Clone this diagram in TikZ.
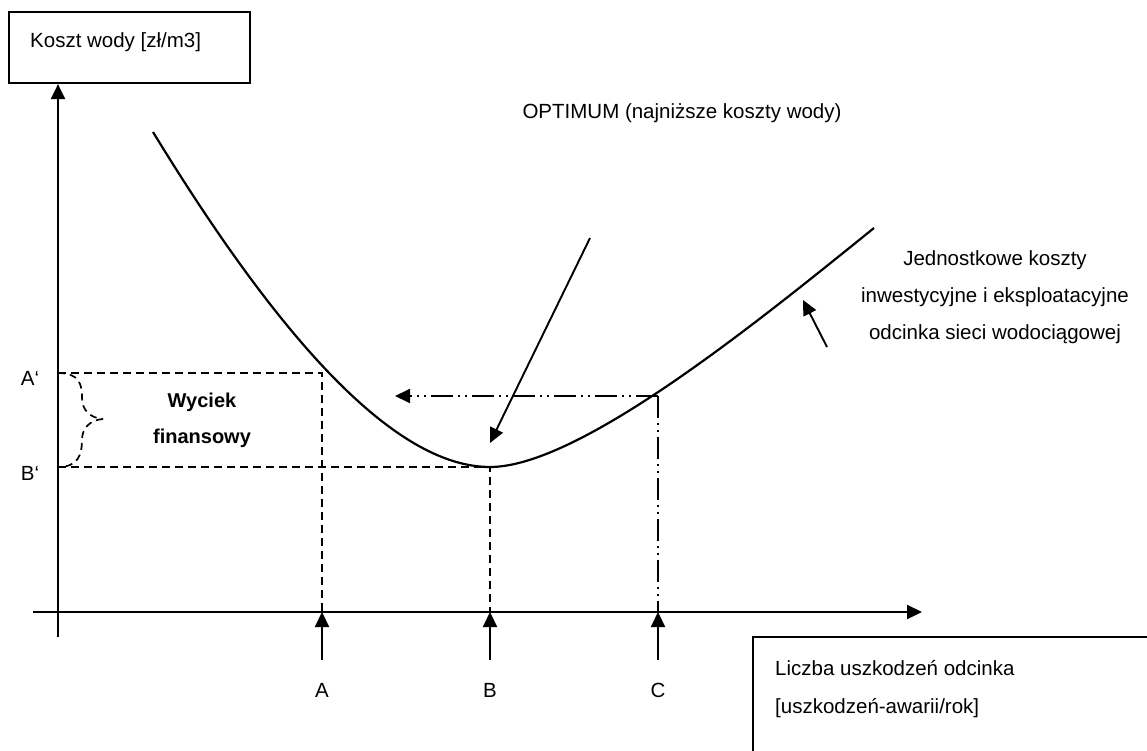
\documentclass[tikz,border=0pt]{standalone}
\usepackage{fontspec}
\setmainfont{Liberation Sans}
\usetikzlibrary{arrows.meta}
\begin{document}
\begin{tikzpicture}[x={(1pt,0)}, y={(0,-1pt)},
  every node/.style={font=\fontsize{20.5}{24}\selectfont, inner sep=0pt},
  axisline/.style={line width=2.2pt},
  tipped/.style={-{Triangle[length=15pt,width=14pt]}},
  thinline/.style={line width=1.9pt},
  dashline/.style={line width=1.8pt, dash pattern=on 8pt off 5pt},
  dotdash/.style={line width=1.8pt, dash pattern=on 22pt off 5pt on 2pt off 5pt on 2pt off 5pt},
  lbl/.style={anchor=center}]
\useasboundingbox (0,0) rectangle (1147,751);
\fill[white] (0,0) rectangle (1147,751);

% axis label boxes
\node[draw, line width=2.2pt, minimum width=241pt, minimum height=71pt] (ybox) at (129.5,47.5) {};
\node[anchor=west] (ylab) at (30,42) {Koszt wody [zł/m3]};
\coordinate (xbtl) at (753,637);
\draw[line width=2.2pt] (1150,637) -- (xbtl) -- (753,755);
\node[anchor=west] (xlab1) at (775,668) {Liczba uszkodzeń odcinka};
\node[anchor=west] (xlab2) at (775,708) {[uszkodzeń-awarii/rok]};

% axes
\coordinate (yfoot) at (58,637);
\coordinate (xstart) at (33,612);
\coordinate (xend) at (922,612);
\draw[axisline, tipped] (yfoot) -- (yfoot |- ybox.south);
\draw[axisline, tipped] (xstart) -- (xend);

% curve points
\coordinate (cs) at (153,132);
\coordinate (pA) at (322,373);
\coordinate (pB) at (490,467);
\coordinate (pC) at (658,396);
\coordinate (ce) at (874,228);
\draw[line width=2.2pt] (cs) .. controls (280,340) and (395,467) .. (pB)
   .. controls (580,467) and (760,320) .. (ce);

% y-level labels
\node[lbl] (Ap) at (30,378) {A{\char"60}};
\node[lbl] (Bp) at (30,473) {B{\char"60}};

% dashed guides
\coordinate (yA) at (58,373);
\coordinate (yB) at (58,467);
\coordinate (xA) at (322,612);
\coordinate (xB) at (490,612);
\coordinate (xC) at (658,612);
\draw[dashline] (yA) -- (pA) -- (xA);
\draw[dashline] (yB) -- (pB) -- (xB);
\draw[dotdash] (pC) -- (xC);
\coordinate (ctip) at (395,396);
\draw[dotdash, tipped] (pC) -- (ctip);

% dashed brace
\draw[line width=1.7pt, dash pattern=on 7pt off 5pt]
  (yA) .. controls (80,373) and (82,385) .. (82,398)
       .. controls (82,410) and (90,418) .. (103,419);
\draw[line width=1.7pt, dash pattern=on 7pt off 5pt]
  (103,419) .. controls (90,420) and (82,428) .. (82,440)
       .. controls (82,455) and (78,467) .. (yB);

\node[font=\fontsize{20}{36}\selectfont\bfseries, align=center] (wyc) at (202,420) {Wyciek\\finansowy};

% arrows A B C
\node[lbl] (LA) at (322,690) {A};
\node[lbl] (LB) at (490,690) {B};
\node[lbl] (LC) at (658,690) {C};
\coordinate (tA) at (322,660);
\coordinate (tB) at (490,660);
\coordinate (tC) at (658,660);
\draw[axisline, tipped] (tA) -- (xA);
\draw[axisline, tipped] (tB) -- (xB);
\draw[axisline, tipped] (tC) -- (xC);

% optimum
\node[lbl] (opt) at (682,113) {OPTIMUM (najniższe koszty wody)};
\coordinate (otail) at (590,238);
\coordinate (otip) at (490,443);
\draw[thinline, tipped] (otail) -- (otip);

% cost curve label
\node[align=center, font=\fontsize{20.5}{37}\selectfont] (cost) at (995,297)
  {Jednostkowe koszty\\inwestycyjne i eksploatacyjne\\odcinka sieci wodociągowej};
\coordinate (ktail) at (827,347);
\coordinate (ktip) at (803,300);
\draw[thinline, tipped] (ktail) -- (ktip);
\end{tikzpicture}
\end{document}
